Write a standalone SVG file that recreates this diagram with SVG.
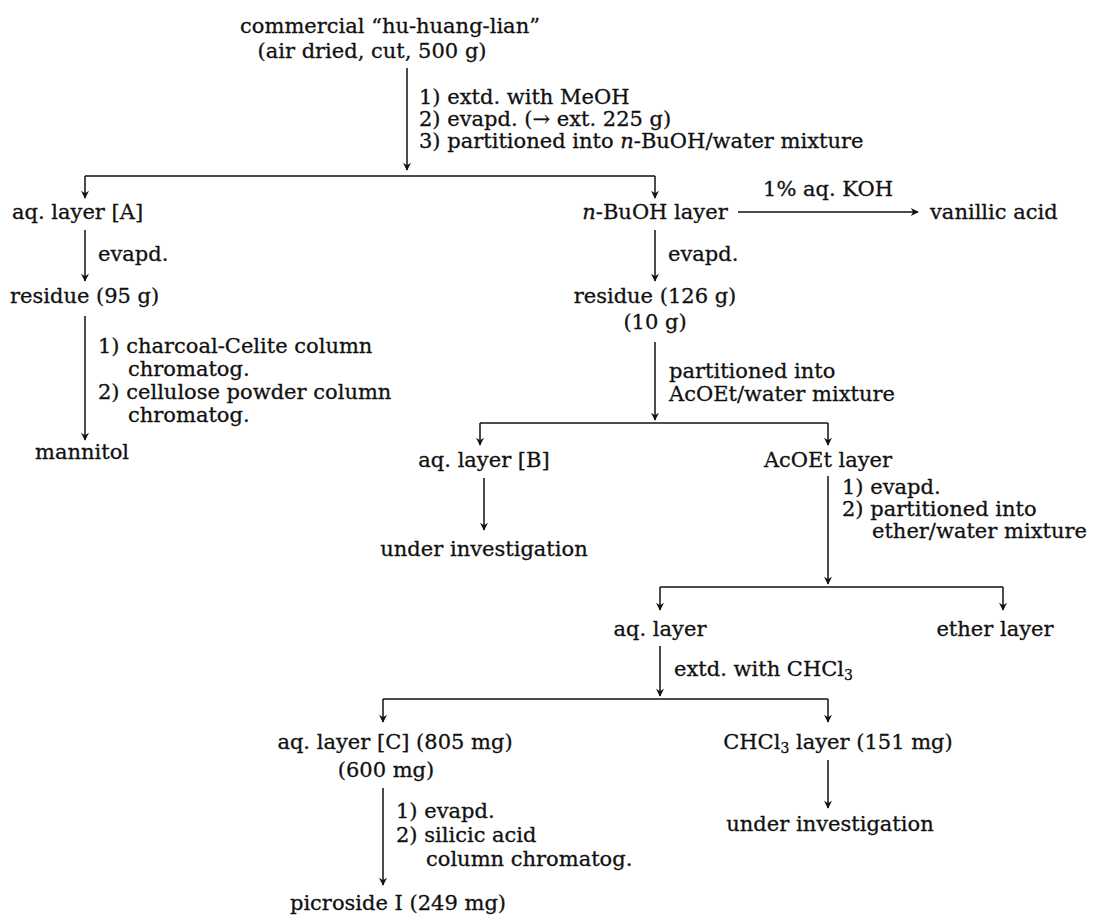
<svg xmlns="http://www.w3.org/2000/svg" width="1104" height="916" viewBox="0 0 1104 916">
<style>
text { font-family: "DejaVu Serif", "Liberation Serif", serif; font-size: 21px; fill: #111; stroke: #111; stroke-width: 0.3; }
.c { text-anchor: middle; }
.ln { stroke: #111; stroke-width: 1.5; fill: none; }
.ar { stroke: #111; stroke-width: 1.5; fill: none; marker-end: url(#ah); }
.it { font-style: italic; }
.sub { font-size: 14px; }
</style>
<defs>
<marker id="ah" viewBox="0 0 10 10" refX="9" refY="5" markerWidth="9" markerHeight="8" markerUnits="userSpaceOnUse" orient="auto">
<path d="M0,0 L10,5 L0,10 L3,5 z" fill="#111"/>
</marker>
</defs>
<rect width="1104" height="916" fill="#fff"/>

<g id="connectors">
<line class="ar" x1="407" y1="68" x2="407" y2="170"/>
<line class="ln" x1="85" y1="176" x2="655" y2="176"/>
<line class="ar" x1="85" y1="176" x2="85" y2="198"/>
<line class="ar" x1="655" y1="176" x2="655" y2="198"/>
<line class="ar" x1="738" y1="212" x2="918" y2="212"/>
<line class="ar" x1="85" y1="230" x2="85" y2="281"/>
<line class="ar" x1="655" y1="230" x2="655" y2="281"/>
<line class="ar" x1="85" y1="316" x2="85" y2="440"/>
<line class="ar" x1="655" y1="342" x2="655" y2="420"/>
<line class="ln" x1="480" y1="423" x2="828" y2="423"/>
<line class="ar" x1="480" y1="423" x2="480" y2="445"/>
<line class="ar" x1="828" y1="423" x2="828" y2="445"/>
<line class="ar" x1="484" y1="478" x2="484" y2="530"/>
<line class="ar" x1="828" y1="476" x2="828" y2="584"/>
<line class="ln" x1="660" y1="587" x2="1003" y2="587"/>
<line class="ar" x1="660" y1="587" x2="660" y2="610"/>
<line class="ar" x1="1003" y1="587" x2="1003" y2="610"/>
<line class="ar" x1="660" y1="646" x2="660" y2="696"/>
<line class="ln" x1="383" y1="699" x2="828" y2="699"/>
<line class="ar" x1="383" y1="699" x2="383" y2="722"/>
<line class="ar" x1="828" y1="699" x2="828" y2="722"/>
<line class="ar" x1="383" y1="788" x2="383" y2="885"/>
<line class="ar" x1="828" y1="760" x2="828" y2="808"/>
</g>

<g id="labels">
<text x="419" y="104">1) extd. with MeOH</text>
<text x="419" y="126">2) evapd. (→ ext. 225 g)</text>
<text x="419" y="148">3) partitioned into <tspan class="it">n</tspan>-BuOH/water mixture</text>
<text class="c" x="828" y="196">1% aq. KOH</text>
<text x="98" y="261">evapd.</text>
<text x="668" y="261">evapd.</text>
<text x="98" y="353">1) charcoal-Celite column</text>
<text x="128" y="376">chromatog.</text>
<text x="98" y="399">2) cellulose powder column</text>
<text x="128" y="422">chromatog.</text>
<text x="669" y="378">partitioned into</text>
<text x="669" y="401">AcOEt/water mixture</text>
<text x="842" y="494">1) evapd.</text>
<text x="842" y="516">2) partitioned into</text>
<text x="872" y="538">ether/water mixture</text>
<text x="674" y="676">extd. with CHCl<tspan dy="4" class="sub">3</tspan></text>
<text x="396" y="818">1) evapd.</text>
<text x="396" y="842">2) silicic acid</text>
<text x="426" y="866">column chromatog.</text>
</g>

<g id="n-start">
<text class="c" x="390" y="33">commercial “hu-huang-lian”</text>
<text class="c" x="372" y="58">(air dried, cut, 500 g)</text>
</g>
<g id="n-aqA"><text x="12" y="219">aq. layer [A]</text></g>
<g id="n-buoh"><text class="c" x="655" y="219"><tspan class="it">n</tspan>-BuOH layer</text></g>
<g id="n-vanillic"><text x="930" y="219">vanillic acid</text></g>
<g id="n-res95"><text x="10" y="303">residue (95 g)</text></g>
<g id="n-res126">
<text class="c" x="655" y="303">residue (126 g)</text>
<text class="c" x="655" y="329">(10 g)</text>
</g>
<g id="n-mannitol"><text class="c" x="82" y="459">mannitol</text></g>
<g id="n-aqB"><text class="c" x="484" y="467">aq. layer [B]</text></g>
<g id="n-acoet"><text class="c" x="828" y="467">AcOEt layer</text></g>
<g id="n-uiB"><text class="c" x="484" y="556">under investigation</text></g>
<g id="n-aq"><text class="c" x="660" y="636">aq. layer</text></g>
<g id="n-ether"><text class="c" x="995" y="636">ether layer</text></g>
<g id="n-aqC">
<text class="c" x="395" y="749">aq. layer [C] (805 mg)</text>
<text class="c" x="386" y="777">(600 mg)</text>
</g>
<g id="n-chcl3"><text class="c" x="838" y="749">CHCl<tspan dy="4" class="sub">3</tspan><tspan dy="-4"> layer (151 mg)</tspan></text></g>
<g id="n-uiC"><text class="c" x="830" y="831">under investigation</text></g>
<g id="n-picroside"><text class="c" x="398" y="910">picroside I (249 mg)</text></g>
</svg>
